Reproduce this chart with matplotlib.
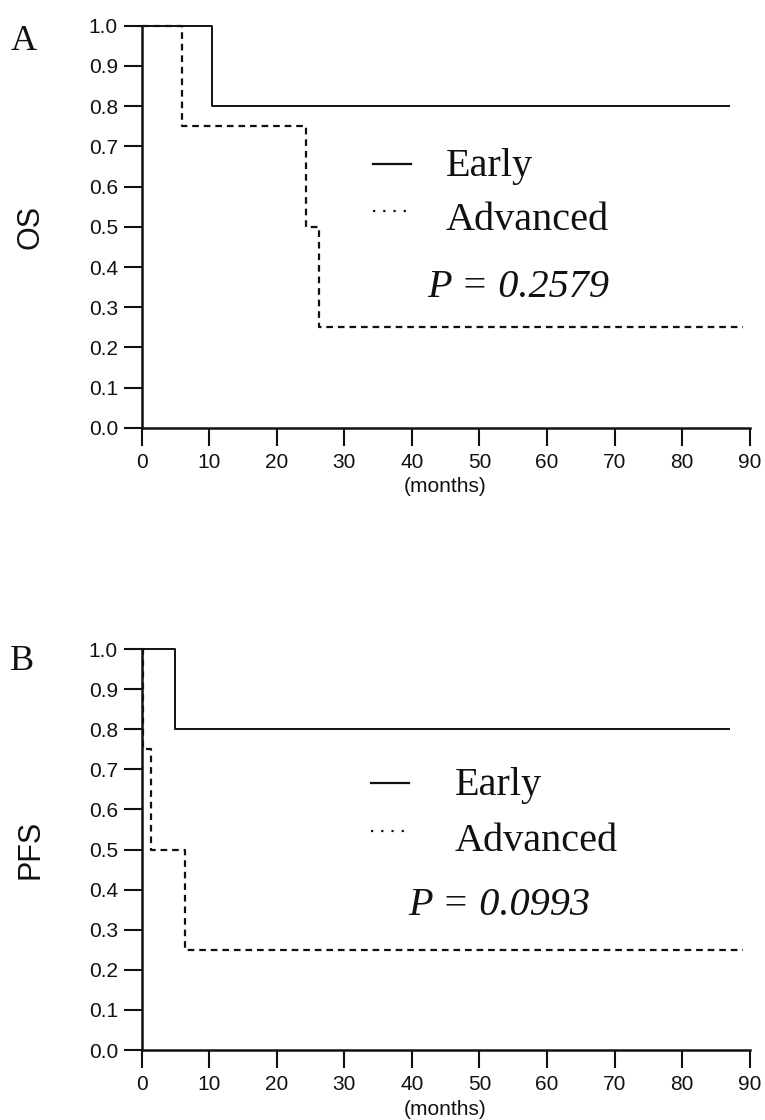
import matplotlib
matplotlib.use("Agg")
import matplotlib.pyplot as plt

# ---- data ----
os_early_t = [0, 10.5, 87]
os_early_s = [1.0, 0.8, 0.8]
os_adv_t = [0, 6.0, 24.3, 26.3, 89]
os_adv_s = [1.0, 0.75, 0.5, 0.25, 0.25]

pfs_early_t = [0, 4.9, 87]
pfs_early_s = [1.0, 0.8, 0.8]
pfs_adv_t = [0, 0.2, 1.4, 6.5, 89]
pfs_adv_s = [1.0, 0.75, 0.5, 0.25, 0.25]

x_ticks = [0, 10, 20, 30, 40, 50, 60, 70, 80, 90]
y_ticks = [0.0, 0.1, 0.2, 0.3, 0.4, 0.5, 0.6, 0.7, 0.8, 0.9, 1.0]
group_labels = ["Early", "Advanced"]
p_values = ["0.2579", "0.0993"]
y_labels = ["OS", "PFS"]
panel_letters = ["A", "B"]

sans = ["Liberation Sans", "DejaVu Sans"]
serif = ["Liberation Serif", "DejaVu Serif"]

fig = plt.figure(figsize=(7.65, 11.2), dpi=100)
axA = fig.add_axes([0.185, 0.618, 0.795, 0.359])
axB = fig.add_axes([0.185, 0.0625, 0.795, 0.358])

panels = [
    (axA, os_early_t, os_early_s, os_adv_t, os_adv_s,
     dict(line_x=(34.3, 39.9), text_x=45.0, y_early=0.65, y_adv=0.515, p_x=42.3, y_p=0.35)),
    (axB, pfs_early_t, pfs_early_s, pfs_adv_t, pfs_adv_s,
     dict(line_x=(34.0, 39.6), text_x=46.3, y_early=0.66, y_adv=0.52, p_x=39.4, y_p=0.36)),
]

for i, (ax, et, es, at, as_, lg) in enumerate(panels):
    ax.step(et, es, where="post", color="#111111", lw=1.4, clip_on=False, zorder=3)
    ax.step(at, as_, where="post", color="#111111", lw=1.6,
            linestyle=(0, (3, 2.2)), clip_on=False, zorder=3)
    ax.set_xlim(0, 90)
    ax.set_ylim(0, 1)
    ax.set_xticks(x_ticks)
    ax.set_yticks(y_ticks)
    ax.set_yticklabels([f"{v:.1f}" for v in y_ticks])
    for side in ["top", "right"]:
        ax.spines[side].set_visible(False)
    for side in ["left", "bottom"]:
        ax.spines[side].set_linewidth(1.8)
        ax.spines[side].set_color("#111111")
    ax.tick_params(direction="out", length=13, width=1.5, color="#111111",
                   labelsize=15, labelcolor="#111111")
    ax.tick_params(axis="y", pad=4)
    ax.tick_params(axis="x", pad=5)
    for lab in ax.get_xticklabels() + ax.get_yticklabels():
        lab.set_family(sans)
    ax.set_xlabel("(months)", fontsize=15, family=sans, labelpad=4, color="#111111")
    ax.set_ylabel(y_labels[i], fontsize=22, family=sans, color="#111111")
    ax.yaxis.set_label_coords(-0.158, 0.5)

    # legend
    ax.plot(list(lg["line_x"]), [lg["y_early"] + 0.005] * 2, color="#111111", lw=1.6)
    ax.plot(list(lg["line_x"]), [lg["y_adv"] + 0.025] * 2, color="#111111", lw=1.6,
            linestyle=(0, (1, 3.6)))
    ax.text(lg["text_x"], lg["y_early"], group_labels[0], fontsize=29, family=serif,
            va="center", ha="left", color="#111111")
    ax.text(lg["text_x"], lg["y_adv"], group_labels[1], fontsize=29, family=serif,
            va="center", ha="left", color="#111111")
    ax.text(lg["p_x"], lg["y_p"], f"P = {p_values[i]}", fontsize=29, family=serif,
            style="italic", va="center", ha="left", color="#111111")

fig.text(24 / 765, 1 - 41 / 1120, panel_letters[0], fontsize=26, family=serif,
         ha="center", va="center", color="#111111")
fig.text(22 / 765, 1 - 661 / 1120, panel_letters[1], fontsize=26, family=serif,
         ha="center", va="center", color="#111111")

fig.savefig("out.png", dpi=100, facecolor="white")
